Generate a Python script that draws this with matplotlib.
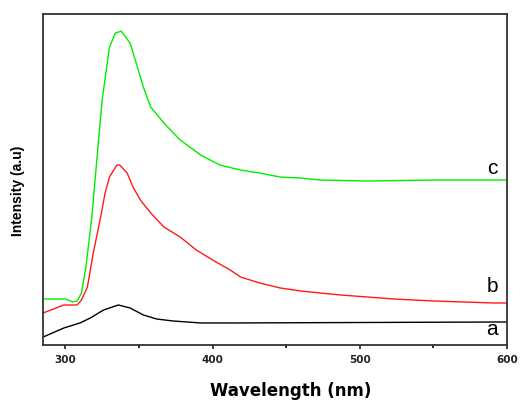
import matplotlib.pyplot as plt

# data kurva, intensitas dalam satuan relatif
wl_c = [285, 300, 305, 308, 311, 314, 318, 322, 325, 330, 334, 338, 344, 349, 353,
        358, 367, 378, 392, 405, 419, 432, 446, 460, 473, 505, 550, 600]
int_c = [46, 46, 43, 44, 52, 78, 128, 195, 245, 298, 312, 314, 302, 278, 258,
         238, 222, 205, 190, 180, 175, 172, 168, 167, 165, 164, 165, 165]

wl_b = [285, 299, 308, 311, 315, 319, 324, 327, 330, 335, 337, 342, 346, 351, 358,
        367, 378, 389, 400, 412, 419, 432, 446, 460, 473, 487, 505, 523, 550, 591, 600]
int_b = [32, 40, 40, 45, 58, 92, 128, 152, 168, 180, 180, 172, 158, 145, 132,
         118, 108, 95, 85, 75, 68, 62, 57, 54, 52, 50, 48, 46, 44, 42, 42]

wl_a = [285, 299, 310, 317, 326, 336, 344, 353, 362, 373, 392, 412, 600]
int_a = [8, 17, 22, 27, 35, 40, 37, 30, 26, 24, 22, 22, 23]

labels = ['a', 'b', 'c']
label_y = [15, 58, 177]

fig = plt.figure(figsize=(5.2, 4.03), dpi=100)
ax = fig.add_axes([0.082, 0.144, 0.893, 0.821])

ax.plot(wl_c, int_c, color='#00ee00', linewidth=1.0)
ax.plot(wl_b, int_b, color='#ff1a1a', linewidth=1.0)
ax.plot(wl_a, int_a, color='black', linewidth=1.0)

# label kurva di kanan
for lab, y in zip(labels, label_y):
    ax.text(590, y, lab, fontsize=15, family='Liberation Sans', ha='center', va='center')

ax.set_xlim(284.6, 600)
ax.set_ylim(0, 331)
ax.set_yticks([])
ax.set_xticks([300, 400, 500, 600])
ax.set_xticks([350, 450, 550], minor=True)
ax.tick_params(axis='x', which='major', direction='out', length=3, width=1.2, pad=4,
               labelsize=7.5, colors='#222222')
ax.tick_params(axis='x', which='minor', direction='out', length=2.5, width=1.2)
for t in ax.get_xticklabels():
    t.set_fontweight('bold')

for s in ax.spines.values():
    s.set_linewidth(1.3)
    s.set_color('#333333')

ax.set_xlabel('Wavelength (nm)', fontsize=12, fontweight='bold', va='center')
ax.xaxis.set_label_coords(0.535, -0.14)
ax.set_ylabel('Intensity (a.u)', fontsize=10, fontweight='bold', family='Liberation Sans',
              va='center')
ax.yaxis.set_label_coords(-0.052, 0.465)

fig.savefig('out.png', dpi=100)
